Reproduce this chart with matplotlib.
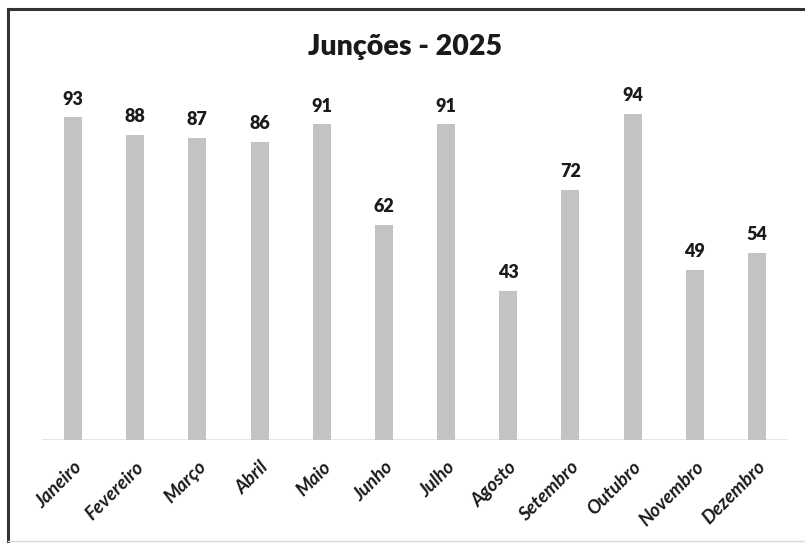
import matplotlib
matplotlib.use("Agg")
import matplotlib.pyplot as plt
from matplotlib.lines import Line2D

months = ["Janeiro", "Fevereiro", "Março", "Abril", "Maio", "Junho",
          "Julho", "Agosto", "Setembro", "Outubro", "Novembro", "Dezembro"]
values = [93, 88, 87, 86, 91, 62, 91, 43, 72, 94, 49, 54]
title = "Junções - 2025"

plt.rcParams['font.family'] = ['Lato', 'DejaVu Sans']

fig = plt.figure(figsize=(8.05, 5.46), dpi=100)
ax = fig.add_axes([42/805, 106/546, 746/805, 347/546])

x = list(range(len(months)))
bars = ax.bar(x, values, width=0.29, color="#c3c3c3", zorder=2)
ax.set_xlim(-0.5, len(months) - 0.5)
ax.set_ylim(0, 100)
ax.axhline(0, color="#e2e2e2", lw=1.2, zorder=1)

for xi, v in zip(x, values):
    ax.annotate(str(v), (xi, v), xytext=(0, 7), textcoords="offset points",
                ha="center", va="bottom", fontsize=13, fontweight="heavy",
                color="#1a1a1a")

ax.set_xticks(x)
ax.set_xticklabels(months, rotation=45, ha="right", rotation_mode="anchor",
                   fontsize=13.5, fontweight="bold", style="italic", color="#1a1a1a")
ax.tick_params(axis="x", length=0, pad=13)
ax.set_yticks([])
for s in ax.spines.values():
    s.set_visible(False)

fig.text(0.503, 1 - 47/546, title, ha="center", va="center",
         fontsize=20.5, fontweight="heavy", color="#1a1a1a")

# frame
fig.add_artist(Line2D([8/805, 1.0], [1 - 9/546, 1 - 9/546], transform=fig.transFigure,
                      color="#333333", lw=2.2))
fig.add_artist(Line2D([8/805, 8/805], [1 - 9/546, 1 - 541/546], transform=fig.transFigure,
                      color="#333333", lw=2.2))
fig.add_artist(Line2D([8/805, 1.0], [1 - 541/546, 1 - 541/546], transform=fig.transFigure,
                      color="#d8d8d8", lw=1.0))

fig.savefig("out.png", dpi=100, facecolor="white")
